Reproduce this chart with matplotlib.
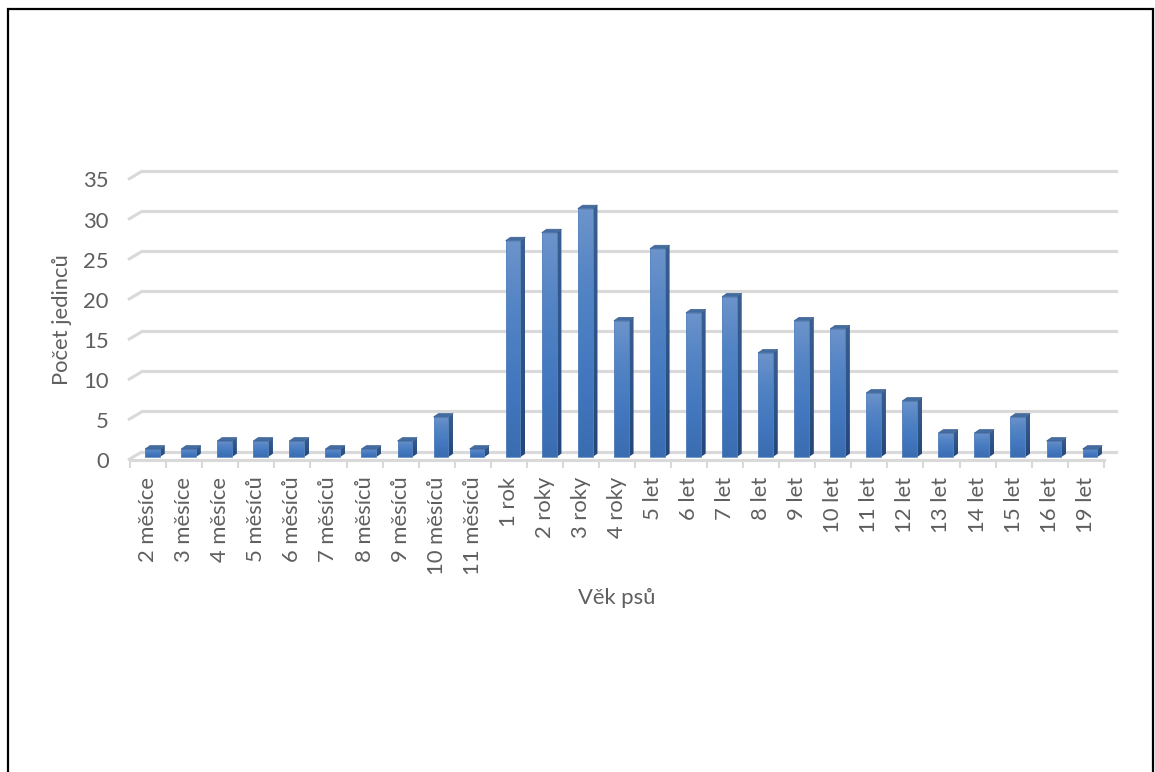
import numpy as np
import matplotlib
matplotlib.use("Agg")
import matplotlib.pyplot as plt
from matplotlib.patches import Polygon, Rectangle
from matplotlib.colors import LinearSegmentedColormap
from matplotlib.ticker import FixedLocator

# --- data -------------------------------------------------------------
categories = [
    "2 měsíce", "3 měsíce", "4 měsíce", "5 měsíců", "6 měsíců", "7 měsíců",
    "8 měsíců", "9 měsíců", "10 měsíců", "11 měsíců",
    "1 rok", "2 roky", "3 roky", "4 roky",
    "5 let", "6 let", "7 let", "8 let", "9 let", "10 let", "11 let",
    "12 let", "13 let", "14 let", "15 let", "16 let", "19 let",
]
counts = [1, 1, 2, 2, 2, 1, 1, 2, 5, 1,
          27, 28, 31, 17,
          26, 18, 20, 13, 17, 16, 8, 7, 3, 3, 5, 2, 1]
y_ticks = [0, 5, 10, 15, 20, 25, 30, 35]
x_title = "Věk psů"
y_title = "Počet jedinců"

# --- style --------------------------------------------------------------
FONT = "Lato"
TXT = "#5f5f5f"
GRID = "#d9d9d9"
FS = 15.8

W, H, DPI = 1155, 772, 100
fig = plt.figure(figsize=(W / DPI, H / DPI), dpi=DPI)
fig.patch.set_facecolor("white")

# plot area in pixels
L, R, B, T = 128, 1116, 460, 171
ax = fig.add_axes([L / W, 1 - B / H, (R - L) / W, (B - T) / H])
n = len(categories)
ax.set_facecolor("none")
for s in ax.spines.values():
    s.set_visible(False)

# oblique depth of the floor / back wall, in data units
DX, DY = 0.34, 1.06

# back-wall gridlines with the short diagonal joining the front edge
for v in y_ticks:
    ax.plot([-0.56, -0.5 + DX], [v, v + DY], color=GRID, lw=2.2,
            solid_capstyle="butt", zorder=1, clip_on=False)
    ax.plot([-0.5 + DX, n - 0.5 + DX], [v + DY, v + DY], color=GRID,
            lw=2.2, zorder=1, clip_on=False)
# front edge of the floor
ax.plot([-0.5, n - 0.5], [0, 0], color=GRID, lw=2.2, zorder=1, clip_on=False)

# bars drawn as oblique boxes
t0, t1 = 0.35, 0.75
bw = 0.41
face_cmap = LinearSegmentedColormap.from_list(
    "face", ["#3a6cb0", "#4378bf", "#5283c4", "#6d94cb"])
side_cmap = LinearSegmentedColormap.from_list(
    "side", ["#24467a", "#2d5488", "#3a5f90"])
grad = np.linspace(0, 1, 256).reshape(-1, 1)
for i, v in enumerate(counts):
    x0 = i - bw / 2 + t0 * DX
    x1 = i + bw / 2 + t0 * DX
    y0 = t0 * DY
    y1 = v + t0 * DY
    ddx, ddy = (t1 - t0) * DX, (t1 - t0) * DY
    # front face with vertical gradient
    im = ax.imshow(grad, cmap=face_cmap, origin="lower", aspect="auto",
                   extent=[x0, x1, y0, y1], zorder=3, interpolation="bilinear")
    clip = Rectangle((x0, y0), x1 - x0, y1 - y0, transform=ax.transData)
    im.set_clip_path(clip)
    ax.add_patch(Rectangle((x0, y0), x1 - x0, y1 - y0, fill=False,
                           ec="#5b86c0", lw=0.6, zorder=3.5))
    # side face
    side = Polygon([(x1, y0), (x1 + ddx, y0 + ddy), (x1 + ddx, y1 + ddy),
                    (x1, y1)], closed=True, transform=ax.transData)
    ims = ax.imshow(grad, cmap=side_cmap, origin="lower", aspect="auto",
                    extent=[x1, x1 + ddx, y0, y1 + ddy], zorder=3,
                    interpolation="bilinear")
    ims.set_clip_path(side)
    # top face
    ax.add_patch(Polygon([(x0, y1), (x1, y1), (x1 + ddx, y1 + ddy),
                          (x0 + ddx, y1 + ddy)], closed=True,
                         fc="#456c9f", ec="#3d6394", lw=0.5, zorder=4))

ax.set_xlim(-0.56, n - 0.5 + 0.34)
ax.set_ylim(0, 36.06)

# axes ticks and labels
ax.yaxis.set_major_locator(FixedLocator(y_ticks))
ax.tick_params(axis="y", length=0, pad=14, labelsize=FS, labelcolor=TXT)
ax.set_xticks(range(n))
ax.set_xticklabels(categories, rotation=90, fontsize=FS, color=TXT,
                   fontfamily=FONT)
ax.xaxis.set_minor_locator(FixedLocator(np.arange(-0.5, n, 1.0)))
ax.tick_params(axis="x", which="major", length=0, pad=12)
ax.tick_params(axis="x", which="minor", length=5.5, width=1.5, color=GRID)
for lab in ax.get_yticklabels():
    lab.set_fontfamily(FONT)

fig.text(62 / W, 1 - 320 / H, y_title, rotation=90, ha="center",
         va="center", fontsize=FS, color=TXT, fontfamily=FONT)
fig.text(617 / W, 1 - 598 / H, x_title, ha="center", va="center",
         fontsize=FS, color=TXT, fontfamily=FONT)

# outer frame of the chart
fig.patches.append(Rectangle((7.5 / W, -0.05), (1153 - 7.5) / W,
                             1.05 - 8.5 / H, transform=fig.transFigure,
                             fill=False, ec="black", lw=1.6))

fig.savefig("out.png", dpi=DPI, facecolor="white")
